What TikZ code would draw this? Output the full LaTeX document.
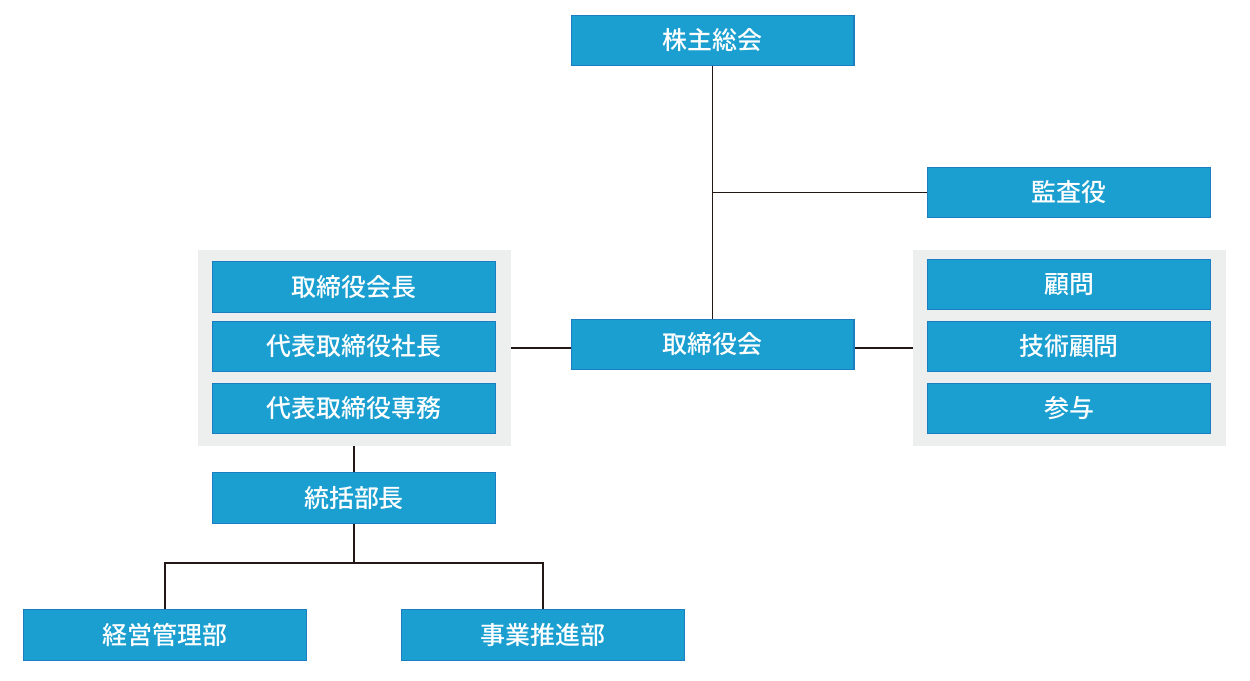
\documentclass[tikz,border=0pt]{standalone}
\usepackage{fontspec}
\newfontfamily\jpfont{Noto Sans CJK JP Medium}
\usetikzlibrary{positioning}

\definecolor{boxblue}{HTML}{1A9FD0}
\definecolor{boxedge}{HTML}{1C7EC2}
\definecolor{panelgray}{HTML}{EDEEEE}
\definecolor{linedark}{HTML}{231815}

\begin{document}
\begin{tikzpicture}[x=0.02cm,y=-0.02cm,
  post/.style={fill=boxblue,draw=boxedge,line width=0.6pt,text=white,
    minimum width=5.66cm,minimum height=1.01cm,inner sep=0pt,
    font=\jpfont\fontsize{14.2}{16}\selectfont},
  panel/.style={fill=panelgray,draw=none,minimum width=6.26cm,minimum height=3.92cm,inner sep=0pt},
  link/.style={draw=linedark,line width=0.9pt}]
\useasboundingbox (0,0) rectangle (1250,680);

% gray groups
\node[panel] (execs) at (354.5,348) {};
\node[panel] (advisors) at (1069.5,348) {};

\node[post] (meeting) at (712.5,40.5) {株主総会};
\node[post] (auditor) at (1069,192.5) {監査役};
\node[post] (board) at (712.5,344.5) {取締役会};

\node[post] (chair) at (354,287) {取締役会長};
\node[post] (president) at (354,346.5) {代表取締役社長};
\node[post] (director) at (354,408.5) {代表取締役専務};

\node[post] (adviser) at (1069,284.5) {顧問};
\node[post] (techadv) at (1069,346.5) {技術顧問};
\node[post] (counsel) at (1069,408.5) {参与};

\node[post] (gm) at (354,498) {統括部長};
\node[post] (mgmt) at (165,635) {経営管理部};
\node[post] (biz) at (543,635) {事業推進部};

\coordinate (tap) at (712.5,192.5);
\coordinate (fork) at (354,563);

\draw[link] (meeting.south) -- (board.north);
\draw[link] (tap) -- (auditor.west);
\draw[link] (execs.east |- 0,348) -- (board.west |- 0,348);
\draw[link] (board.east |- 0,348) -- (advisors.west |- 0,348);
\draw[link] (execs.south -| gm.north) -- (gm.north);
\draw[link] (gm.south) -- (fork);
\draw[link] (mgmt.north) |- (fork) -| (biz.north);
\end{tikzpicture}
\end{document}
